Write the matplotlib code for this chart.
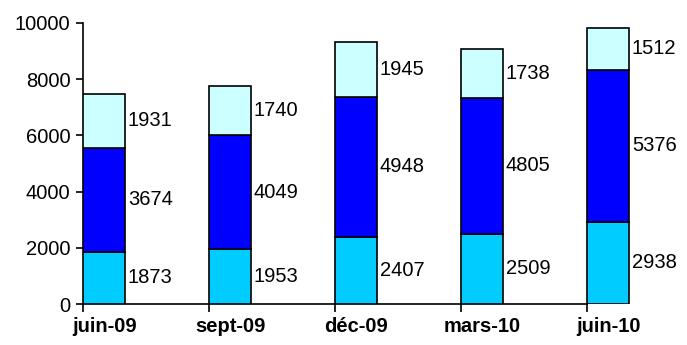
import matplotlib
matplotlib.use('Agg')
import matplotlib.pyplot as plt
import numpy as np

plt.rcParams['font.family'] = ['Liberation Sans', 'DejaVu Sans']

# Quarterly figures, stacked bottom -> top
periods = ['juin-09', 'sept-09', 'déc-09', 'mars-10', 'juin-10']
bottom_vals = [1873, 1953, 2407, 2509, 2938]
middle_vals = [3674, 4049, 4948, 4805, 5376]
top_vals = [1931, 1740, 1945, 1738, 1512]

colors = ['#00CCFF', '#0000FF', '#CCFFFF']
bar_w = 0.335
fs = 14.5

fig = plt.figure(figsize=(6.87, 3.45), dpi=100)
ax = fig.add_axes([83 / 687, 40.7 / 345, 605 / 687, 281.6 / 345])

x = np.arange(len(periods))
base = np.zeros(len(periods))
for vals, col in zip([bottom_vals, middle_vals, top_vals], colors):
    vals = np.array(vals)
    ax.bar(x, vals, width=bar_w, bottom=base, align='edge',
           color=col, edgecolor='black', linewidth=1.2, zorder=3)
    for xi, b, v in zip(x, base, vals):
        ax.text(xi + bar_w + 0.02, b + v / 2, str(v), ha='left', va='center',
                fontsize=fs, color='black')
    base = base + vals

ax.set_ylim(0, 10000)
ax.set_xlim(0, 4.8)
ax.set_yticks(np.arange(0, 10001, 2000))
ax.tick_params(axis='y', labelsize=fs, length=5, width=1.2, direction='out', pad=4)

# tick marks at bar edges, labels centred under the bars
ax.set_xticks(x)
ax.set_xticklabels([])
ax.tick_params(axis='x', length=6, width=1.2, direction='out')
ax.set_xticks(x + bar_w / 2, minor=True)
ax.set_xticklabels(periods, minor=True, fontsize=fs, fontweight='bold')
ax.tick_params(axis='x', which='minor', length=0, pad=9)

for side in ['top', 'right']:
    ax.spines[side].set_visible(False)
ax.spines['left'].set_linewidth(1.2)
ax.spines['bottom'].set_linewidth(1.2)
ax.spines['bottom'].set_bounds(0, 4)

fig.savefig('out.png', dpi=100)
plt.close(fig)
